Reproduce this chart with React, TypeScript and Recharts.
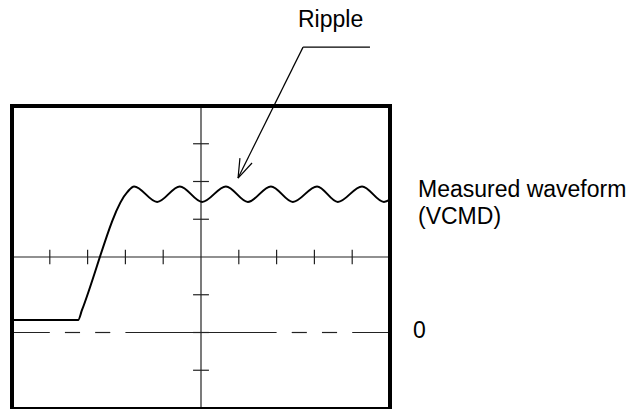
import React from "react";
import { ComposedChart, Line, XAxis, YAxis, ReferenceLine } from "recharts";

// screen is 10 x 8 divisions, origin at the centre crosshair
const waveX = [-5, -3.25, -3.15, -1.95, -1.77, -1.16, -0.56, 0.03, 0.66, 1.24, 1.85, 2.43, 3.07, 3.62, 4.26, 4.84, 5];
const waveY = [-1.67, -1.67, -1.41, 1.72, 1.87, 1.46, 1.87, 1.46, 1.87, 1.46, 1.87, 1.46, 1.87, 1.46, 1.87, 1.46, 1.52];

const xTicks = [-4, -3, -2, -1, 1, 2, 3, 4];
const yTicks = [-3, -2, -1, 1, 2, 3];

// zero level, drawn as a broken line
const zeroLevel = -2;
const zeroSegments = [[-5, -4], [-3.6, -3.2], [-2.8, -2.4], [-2, 2], [2.4, 2.8], [3.2, 3.6], [4, 5]];

// ripple callout: leader line and arrow head (data units)
const calloutLine = [[4.47, 5.56], [2.7, 5.56], [0.98, 2.09]];
const arrowWings = [[1.35, 2.49], [1.03, 2.62]];

const data = waveX.map((x, i) => ({ x, v: waveY[i] }));

const FONT = "Arial, 'Liberation Sans', sans-serif";
const INK = "#000";
const GRID = "#222";

export default function App() {
  const tip = calloutLine[calloutLine.length - 1];
  return (
    <div style={{ position: "absolute", left: 0, top: 0, width: 640, height: 409 }}>
      <ComposedChart
        width={640}
        height={409}
        data={data}
        margin={{ top: 106, left: 12, right: 250, bottom: 1 }}
      >
        <XAxis type="number" dataKey="x" domain={[-5, 5]} hide />
        <YAxis type="number" domain={[-4, 4]} hide allowDataOverflow />

        {/* centre crosshair */}
        <ReferenceLine x={0} stroke={GRID} strokeWidth={1.2} ifOverflow="visible" />
        <ReferenceLine y={0} stroke={GRID} strokeWidth={1.2} ifOverflow="visible" />
        {xTicks.map((t) => (
          <ReferenceLine
            key={`xt${t}`}
            segment={[{ x: t, y: -0.19 }, { x: t, y: 0.19 }]}
            stroke={GRID}
            strokeWidth={1.2}
            ifOverflow="visible"
          />
        ))}
        {yTicks.map((t) => (
          <ReferenceLine
            key={`yt${t}`}
            segment={[{ x: -0.21, y: t }, { x: 0.21, y: t }]}
            stroke={GRID}
            strokeWidth={1.2}
            ifOverflow="visible"
          />
        ))}

        {zeroSegments.map(([a, b]) => (
          <ReferenceLine
            key={`z${a}`}
            segment={[{ x: a, y: zeroLevel }, { x: b, y: zeroLevel }]}
            stroke={GRID}
            strokeWidth={1.2}
            ifOverflow="visible"
          />
        ))}

        {/* screen frame */}
        <ReferenceLine segment={[{ x: -5, y: 4 }, { x: 5, y: 4 }]} stroke={INK} strokeWidth={4} strokeLinecap="square" ifOverflow="visible" />
        <ReferenceLine segment={[{ x: -5, y: 4 }, { x: -5, y: -4 }]} stroke={INK} strokeWidth={4} strokeLinecap="square" ifOverflow="visible" />
        <ReferenceLine segment={[{ x: 5, y: 4 }, { x: 5, y: -4 }]} stroke={INK} strokeWidth={4} strokeLinecap="square" ifOverflow="visible" />
        <ReferenceLine segment={[{ x: -5, y: -4 }, { x: 5, y: -4 }]} stroke={INK} strokeWidth={2} ifOverflow="visible" />

        {/* callout */}
        {calloutLine.slice(1).map((p, i) => (
          <ReferenceLine
            key={`c${i}`}
            segment={[{ x: calloutLine[i][0], y: calloutLine[i][1] }, { x: p[0], y: p[1] }]}
            stroke={INK}
            strokeWidth={1.2}
            ifOverflow="visible"
          />
        ))}
        {arrowWings.map((w, i) => (
          <ReferenceLine
            key={`w${i}`}
            segment={[{ x: tip[0], y: tip[1] }, { x: w[0], y: w[1] }]}
            stroke={INK}
            strokeWidth={1.2}
            ifOverflow="visible"
          />
        ))}

        <Line
          type="monotone"
          dataKey="v"
          stroke={INK}
          strokeWidth={2}
          dot={false}
          activeDot={false}
          isAnimationActive={false}
        />
      </ComposedChart>

      <svg
        width={640}
        height={409}
        style={{ position: "absolute", left: 0, top: 0, pointerEvents: "none" }}
        fontFamily={FONT}
        fontSize={23}
        fill={INK}
      >
        <text x={298} y={27}>Ripple</text>
        <text x={418} y={197}>Measured waveform</text>
        <text x={418} y={224}>(VCMD)</text>
        <text x={413} y={338}>0</text>
      </svg>
    </div>
  );
}
